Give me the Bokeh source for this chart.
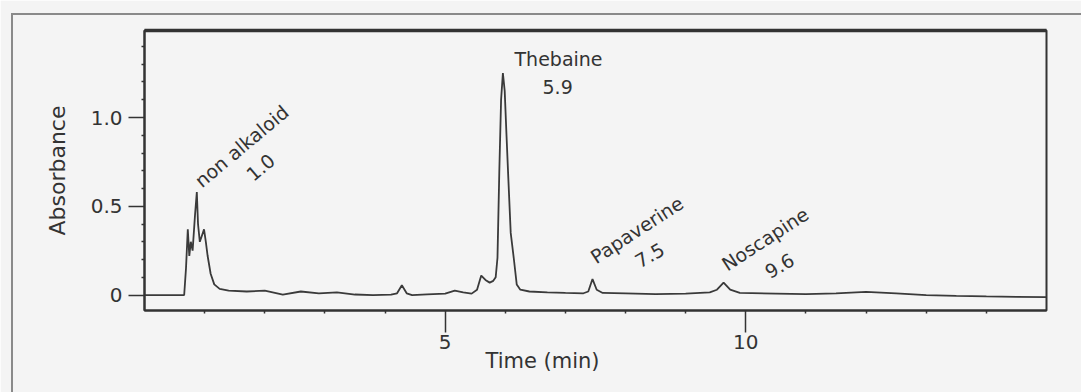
from bokeh.plotting import figure
from bokeh.models import FixedTicker, ColumnDataSource, Title, LinearAxis, InlineStyleSheet
from bokeh.core.properties import value
from bokeh.embed import file_html
from bokeh.resources import INLINE
import math

# ---- chromatogram trace ----
time_min = [0.0, 0.66, 0.69, 0.72, 0.745, 0.77, 0.80, 0.84, 0.87, 0.89, 0.92, 0.95, 0.99,
            1.02, 1.05, 1.10, 1.16, 1.25, 1.40, 1.7, 2.0, 2.3, 2.6, 2.9, 3.2, 3.5, 3.8,
            4.1, 4.2, 4.28, 4.36, 4.45, 4.7, 5.0, 5.16, 5.3, 5.44, 5.53, 5.60, 5.67, 5.74,
            5.80, 5.84, 5.87, 5.90, 5.93, 5.96, 5.99, 6.02, 6.05, 6.09, 6.14, 6.19, 6.25,
            6.4, 6.7, 7.0, 7.3, 7.38, 7.45, 7.52, 7.62, 8.0, 8.5, 9.0, 9.4, 9.52, 9.63,
            9.74, 9.9, 10.5, 11.0, 11.5, 12.0, 12.5, 13.0, 13.5, 14.0, 14.5, 15.0]
absorbance = [0.0, 0.0, 0.15, 0.37, 0.22, 0.30, 0.25, 0.45, 0.58, 0.40, 0.30, 0.33, 0.37,
              0.30, 0.22, 0.12, 0.06, 0.035, 0.025, 0.02, 0.025, 0.003, 0.02, 0.01, 0.015,
              0.003, 0.0, 0.002, 0.01, 0.055, 0.01, 0.0, 0.004, 0.008, 0.025, 0.015, 0.008,
              0.03, 0.11, 0.085, 0.07, 0.08, 0.10, 0.21, 0.69, 1.10, 1.25, 1.15, 0.90, 0.66,
              0.35, 0.21, 0.06, 0.03, 0.02, 0.015, 0.012, 0.01, 0.02, 0.09, 0.03, 0.012,
              0.01, 0.005, 0.008, 0.015, 0.03, 0.07, 0.03, 0.012, 0.008, 0.005, 0.01, 0.018,
              0.01, 0.0, -0.005, -0.008, -0.01, -0.012]

# ---- peak annotations ----
peak_names = ["non alkaloid", "Thebaine", "Papaverine", "Noscapine"]
peak_times = ["1.0", "5.9", "7.5", "9.6"]

# ---- ticks ----
x_ticks = [5, 10]
x_minor = [1, 2, 3, 4, 6, 7, 8, 9, 11, 12, 13, 14]
y_ticks = [0, 0.5, 1.0]
y_tick_labels = {0: "0", 0.5: "0.5", 1: "1.0"}
y_minor = [0.1, 0.2, 0.3, 0.4, 0.6, 0.7, 0.8, 0.9, 1.1, 1.2, 1.3, 1.4]

FONT = "DejaVu Sans"
INK = "#333333"
BG = "#f4f4f4"

p = figure(width=1081, height=392, x_range=(0, 15), y_range=(-0.087, 1.49),
           output_backend="svg", toolbar_location=None,
           min_border_left=144, min_border_right=35, min_border_top=30, min_border_bottom=82)
p.background_fill_color = BG
p.border_fill_color = BG
p.grid.visible = False
p.outline_line_color = INK
p.outline_line_width = 2

# outer frame of the figure panel (left and top edges visible)
p.stylesheets = [InlineStyleSheet(css="""
:host { position: relative; }
:host::after {
  content: ""; position: absolute; left: 11px; top: 13px; right: 0; bottom: 0;
  border-left: 2px solid #8a8a8a; border-top: 2px solid #8a8a8a;
  pointer-events: none; z-index: 10;
}
""")]

for ax in (p.xaxis[0], p.yaxis[0]):
    ax.axis_line_color = INK
    ax.axis_line_width = 2
    ax.major_tick_line_color = INK
    ax.major_tick_line_width = 1.5
    ax.minor_tick_line_color = INK
    ax.minor_tick_line_width = 1.5
    ax.major_tick_in = 0
    ax.minor_tick_in = 0
    ax.minor_tick_out = 3
    ax.major_label_text_font = FONT
    ax.major_label_text_font_size = "20px"
    ax.major_label_text_color = INK

p.xaxis.ticker = FixedTicker(ticks=x_ticks, minor_ticks=x_minor)
p.xaxis.major_tick_out = 22
p.xaxis.major_label_standoff = 2

p.yaxis.ticker = FixedTicker(ticks=y_ticks, minor_ticks=y_minor)
p.yaxis.major_label_overrides = y_tick_labels
p.yaxis.major_tick_out = 16
p.yaxis.major_label_standoff = 6
p.yaxis.axis_label = "Absorbance"
p.yaxis.axis_label_text_font = FONT
p.yaxis.axis_label_text_font_size = "22px"
p.yaxis.axis_label_text_font_style = "normal"
p.yaxis.axis_label_text_color = INK
p.yaxis.axis_label_standoff = 18

# heavier top spine
top_axis = LinearAxis(ticker=FixedTicker(ticks=[]), axis_line_width=3.5,
                      axis_line_color=INK, major_label_text_font_size="0px",
                      major_tick_out=0, minor_tick_out=0)
p.add_layout(top_axis, "above")

p.line(time_min, absorbance, line_color="#3a3a3a", line_width=1.8)

# x axis title (offset to the left as in the original)
p.add_layout(Title(text="Time (min)", text_font=FONT, text_font_size="21px",
                   text_font_style="normal", text_color=INK, align="left",
                   offset=341, standoff=-10), "below")

# annotation layout (positions in data coordinates)
name_x = [0.88, 6.885, 7.45, 9.63]
name_y = [0.63, 1.332, 0.205, 0.165]
name_angle = [40, 0, 33, 33]
name_align = ["left", "center", "left", "left"]
rt_x = [1.93, 6.87, 8.40, 10.56]
rt_y = [0.72, 1.169, 0.225, 0.166]
rt_angle = [40, 0, 30, 30]

names = ColumnDataSource(dict(x=name_x, y=name_y, text=peak_names,
                              angle=[math.radians(a) for a in name_angle], align=name_align))
p.text(x="x", y="y", text="text", angle="angle", source=names,
       text_font=value(FONT), text_font_size="19px", text_color=INK,
       text_align="align", text_baseline="middle")

rts = ColumnDataSource(dict(x=rt_x, y=rt_y, text=peak_times,
                            angle=[math.radians(a) for a in rt_angle]))
p.text(x="x", y="y", text="text", angle="angle", source=rts,
       text_font=value(FONT), text_font_size="19px", text_color=INK,
       text_align="center", text_baseline="middle")

open("out.html", "w").write(file_html(p, INLINE))
